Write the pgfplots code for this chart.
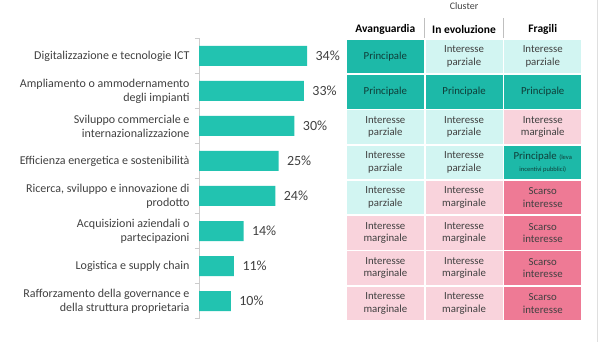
\documentclass[border=0pt]{standalone}
\usepackage{pgfplots}
\pgfplotsset{compat=1.18}
\usepackage{fontspec}
\setmainfont{Carlito}
\definecolor{barteal}{HTML}{22C3B0}
\definecolor{cprinc}{HTML}{1DB9A8}
\definecolor{cparz}{HTML}{D2F5F2}
\definecolor{cmarg}{HTML}{F9D3DC}
\definecolor{cscar}{HTML}{EE7A95}
\definecolor{txt}{HTML}{404040}
\definecolor{pdark}{HTML}{0F3D38}
\begin{document}
\begin{tikzpicture}
\path[use as bounding box] (0,0) rectangle (600bp,342bp);
\draw[gray!25, line width=0.8bp] (597bp,0) -- (597bp,342bp);
% Bar chart
\begin{axis}[
  at={(199bp,23.5bp)}, anchor=south west,
  xbar, x=3.18bp, y=35bp, y dir=reverse,
  xmin=0, xmax=36, ymin=-0.5, ymax=7.5,
  bar width=20bp, clip=false,
  axis x line=none, axis y line*=left,
  axis line style={gray!40, line width=0.6bp},
  ytick={0,...,7},
  yticklabels={
    Digitalizzazione e tecnologie ICT,
    {Ampliamento o ammodernamento\\degli impianti},
    {Sviluppo commerciale e\\internazionalizzazione},
    Efficienza energetica e sostenibilità,
    {Ricerca, sviluppo e innovazione di\\prodotto},
    {Acquisizioni aziendali o\\partecipazioni},
    Logistica e supply chain,
    {Rafforzamento della governance e\\della struttura proprietaria}},
  yticklabel style={align=right, font=\fontsize{12bp}{14bp}\selectfont, text=txt, xshift=-6bp},
  major tick length=0pt,
  minor ytick={-0.5,0.5,...,7.5},
  minor tick length=4bp,
  tick align=outside,
  tick style={gray!40, line width=0.6bp},
  nodes near coords={\pgfmathprintnumber{\pgfplotspointmeta}\%},
  /pgf/number format/assume math mode=true,
  every node near coord/.append style={anchor=west, xshift=5bp, font=\fontsize{14bp}{16bp}\selectfont, text=txt},
]
\addplot[fill=barteal, draw=none] coordinates {
  (34,0) (33,1) (30,2) (25,3) (24,4) (14,5) (11,6) (10,7)};
\end{axis}
% Table
\begin{axis}[
  at={(346bp,303bp)}, anchor=north west,
  x=78.7bp, y=35.25bp, y dir=reverse,
  xmin=-0.5, xmax=2.5, ymin=-0.5, ymax=7.5,
  axis line style={draw=none},
  clip=false,
  ytick=\empty,
  xtick={0,1,2}, xticklabels={Avanguardia, In evoluzione, Fragili},
  xtick pos=upper, xticklabel pos=upper,
  xticklabel style={font=\bfseries\fontsize{11.5bp}{13bp}\selectfont, text=black, yshift=1.5bp},
  major tick length=0pt,
  extra x ticks={0.5,1.5}, extra x tick labels={},
  extra x tick style={major tick length=21bp, tick align=outside, tick style={gray!50, line width=0.8bp}},
  title={Cluster},
  title style={font=\fontsize{10bp}{11bp}\selectfont, text=txt, at={(0.5,1)}, anchor=south, yshift=20bp},
  colormap={cells}{rgb255=(29,185,168) rgb255=(210,245,242) rgb255=(249,211,220) rgb255=(238,122,149)},
  colormap access=direct,
]
\addplot[matrix plot*, mesh/cols=3, point meta=explicit, draw=white, line width=1.6bp] coordinates {
  (0,0) [0] (1,0) [1] (2,0) [1]
  (0,1) [0] (1,1) [0] (2,1) [0]
  (0,2) [1] (1,2) [1] (2,2) [2]
  (0,3) [1] (1,3) [1] (2,3) [0]
  (0,4) [1] (1,4) [2] (2,4) [3]
  (0,5) [2] (1,5) [2] (2,5) [3]
  (0,6) [2] (1,6) [2] (2,6) [3]
  (0,7) [2] (1,7) [2] (2,7) [3]
};
\addplot[draw=none, mark=none, point meta=explicit symbolic, nodes near coords,
  every node near coord/.append style={anchor=center, align=center, text=txt,
    font=\fontsize{10.8bp}{12.5bp}\selectfont}] coordinates {
  (0,0) [{\textcolor{pdark}{Principale}}] (1,0) [{Interesse\\parziale}] (2,0) [{Interesse\\parziale}]
  (0,1) [{\textcolor{pdark}{Principale}}] (1,1) [{\textcolor{pdark}{Principale}}] (2,1) [{\textcolor{pdark}{Principale}}]
  (0,2) [{Interesse\\parziale}] (1,2) [{Interesse\\parziale}] (2,2) [{Interesse\\marginale}]
  (0,3) [{Interesse\\parziale}] (1,3) [{Interesse\\parziale}] (2,3) [{\textcolor{pdark}{Principale {\fontsize{6.5bp}{7bp}\selectfont(leva}}\\\textcolor{pdark}{\fontsize{6.5bp}{7bp}\selectfont incentivi pubblici)}}]
  (0,4) [{Interesse\\parziale}] (1,4) [{Interesse\\marginale}] (2,4) [{Scarso\\interesse}]
  (0,5) [{Interesse\\marginale}] (1,5) [{Interesse\\marginale}] (2,5) [{Scarso\\interesse}]
  (0,6) [{Interesse\\marginale}] (1,6) [{Interesse\\marginale}] (2,6) [{Scarso\\interesse}]
  (0,7) [{Interesse\\marginale}] (1,7) [{Interesse\\marginale}] (2,7) [{Scarso\\interesse}]
};
\end{axis}
\end{tikzpicture}
\end{document}
